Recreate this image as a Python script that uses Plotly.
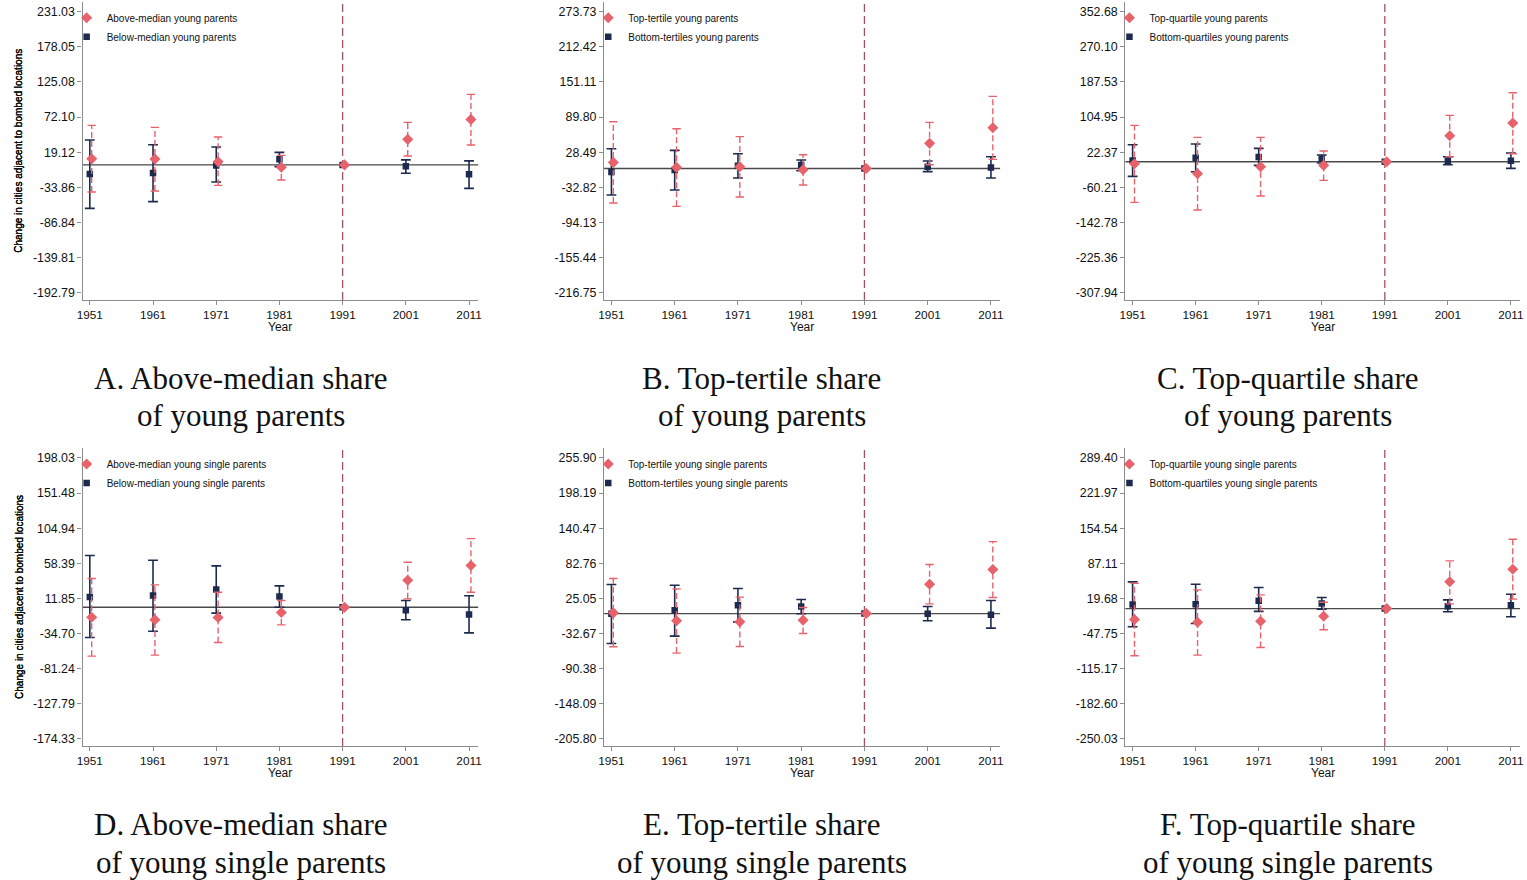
import plotly.graph_objects as go

# ---------------- data ----------------
years = [1951, 1961, 1971, 1981, 1991, 2001, 2011]
year_labels = ["1951", "1961", "1971", "1981", "1991", "2001", "2011"]

# Panel A
a_hi_est = [9.3, 8.8, 4.8, -3.7, 0, 38.5, 68.6]
a_hi_up = [59.6, 56.6, 42.0, 14.4, 0, 64.1, 106.4]
a_hi_lo = [-41.0, -39.4, -30.9, -22.8, 0, 13.4, 30.0]
a_lo_est = [-13.8, -12.3, -1.0, 8.3, 0, -2.2, -14.3]
a_lo_up = [37.5, 30.4, 26.9, 18.9, 0, 7.5, 6.0]
a_lo_lo = [-65.6, -55.5, -25.8, -2.7, 0, -12.6, -35.4]
a_ticks = ["231.03", "178.05", "125.08", "72.10", "19.12", "-33.86", "-86.84", "-139.81", "-192.79"]

# Panel B
b_hi_est = [10.7, 2.0, 3.2, -2.1, 0, 43.9, 71.3]
b_hi_up = [81.7, 69.5, 55.6, 24.1, 0, 80.6, 125.9]
b_hi_lo = [-60.2, -66.0, -49.8, -28.8, 0, 6.7, 16.0]
b_lo_est = [-6.1, -2.6, 5.0, 6.1, 0, 3.2, 2.0]
b_lo_up = [34.6, 31.7, 25.9, 14.8, 0, 13.1, 20.6]
b_lo_lo = [-46.3, -37.5, -16.6, -3.8, 0, -5.5, -16.6]
b_ticks = ["273.73", "212.42", "151.11", "89.80", "28.49", "-32.82", "-94.13", "-155.44", "-216.75"]

# Panel C
c_hi_est = [-4.7, -28.2, -11.7, -8.6, 0, 61.1, 90.9]
c_hi_up = [85.4, 57.2, 57.2, 25.1, 0, 108.9, 162.2]
c_hi_lo = [-95.6, -113.6, -80.7, -43.9, 0, 11.8, 18.8]
c_lo_est = [3.1, 9.4, 11.0, 7.1, 0, 2.4, 2.4]
c_lo_up = [40.0, 41.5, 31.4, 15.7, 0, 11.8, 20.4]
c_lo_lo = [-34.5, -23.5, -8.6, -3.1, 0, -7.0, -15.7]
c_ticks = ["352.68", "270.10", "187.53", "104.95", "22.37", "-60.21", "-142.78", "-225.36", "-307.94"]

# Panel D
d_hi_est = [-13.1, -16.6, -13.5, -6.9, 0, 35.9, 55.4]
d_hi_up = [38.1, 29.7, 20.0, 9.0, 0, 59.8, 91.1]
d_hi_lo = [-64.8, -63.4, -46.7, -23.3, 0, 11.2, 20.0]
d_lo_est = [13.8, 15.6, 23.6, 14.3, 0, -3.8, -9.6]
d_lo_up = [68.6, 62.4, 54.9, 28.4, 0, 9.0, 15.2]
d_lo_lo = [-40.0, -31.7, -7.8, 0.1, 0, -16.6, -33.9]
d_ticks = ["198.03", "151.48", "104.94", "58.39", "11.85", "-34.70", "-81.24", "-127.79", "-174.33"]

# Panel E
e_hi_est = [1.2, -11.9, -13.6, -10.8, 0, 48.3, 72.4]
e_hi_up = [57.6, 40.6, 27.0, 10.0, 0, 80.6, 118.4]
e_hi_lo = [-54.6, -65.0, -54.1, -32.7, 0, 16.0, 26.4]
e_lo_est = [-0.4, 5.6, 13.8, 11.6, 0, -0.4, -2.1]
e_lo_up = [47.8, 46.7, 41.2, 23.1, 0, 11.6, 21.5]
e_lo_lo = [-49.2, -37.1, -13.6, -0.4, 0, -11.9, -24.0]
e_ticks = ["255.90", "198.19", "140.47", "82.76", "25.05", "-32.67", "-90.38", "-148.09", "-205.80"]

# Panel F
f_hi_est = [-21.0, -26.1, -24.2, -14.6, 0, 51.4, 75.7]
f_hi_up = [48.8, 36.0, 26.4, 12.3, 0, 91.7, 133.3]
f_hi_lo = [-90.7, -89.4, -74.7, -40.8, 0, 9.1, 18.1]
f_lo_est = [7.8, 8.5, 14.9, 9.8, 0, 4.6, 6.6]
f_lo_up = [51.4, 46.9, 40.5, 21.3, 0, 16.8, 27.7]
f_lo_lo = [-35.0, -28.6, -5.4, -1.1, 0, -6.2, -15.8]
f_ticks = ["289.40", "221.97", "154.54", "87.11", "19.68", "-47.75", "-115.17", "-182.60", "-250.03"]

legend_hi = ["Above-median young parents", "Top-tertile young parents", "Top-quartile young parents",
             "Above-median young single parents", "Top-tertile young single parents",
             "Top-quartile young single parents"]
legend_lo = ["Below-median young parents", "Bottom-tertiles young parents", "Bottom-quartiles young parents",
             "Below-median young single parents", "Bottom-tertiles young single parents",
             "Bottom-quartiles young single parents"]
captions_1 = ["A. Above-median share", "B. Top-tertile share", "C. Top-quartile share",
              "D. Above-median share", "E. Top-tertile share", "F. Top-quartile share"]
captions_2 = ["of young parents", "of young parents", "of young parents",
              "of young single parents", "of young single parents", "of young single parents"]

y_title = "Change in cities adjacent to bombed locations"
x_title = "Year"
event_year = 1991

panels = [
    (a_hi_est, a_hi_up, a_hi_lo, a_lo_est, a_lo_up, a_lo_lo, a_ticks),
    (b_hi_est, b_hi_up, b_hi_lo, b_lo_est, b_lo_up, b_lo_lo, b_ticks),
    (c_hi_est, c_hi_up, c_hi_lo, c_lo_est, c_lo_up, c_lo_lo, c_ticks),
    (d_hi_est, d_hi_up, d_hi_lo, d_lo_est, d_lo_up, d_lo_lo, d_ticks),
    (e_hi_est, e_hi_up, e_hi_lo, e_lo_est, e_lo_up, e_lo_lo, e_ticks),
    (f_hi_est, f_hi_up, f_hi_lo, f_lo_est, f_lo_up, f_lo_lo, f_ticks),
]

# ---------------- style / layout ----------------
W, H = 1527, 880
PINK = "#E8626C"
NAVY = "#1C2A4E"
VLINE = "#A8505E"
AXC = "#8C8C8C"
SANS = "Liberation Sans, Arial, sans-serif"
SERIF = "Liberation Serif, Times New Roman, serif"

col_px = [(77, 475), (601.7, 1000), (1126, 1523)]
row_px = [(1.7, 300), (448, 746)]
cap_cx = [236, 760, 1290]
cap_y = [(378, 416), (824, 862)]
pink_shift = 0.3

def px_x(v):
    return v / W

def px_y(v):
    return 1 - v / H

fig = go.Figure()
annotations = []
shapes = []
layout_axes = {}

for i, (h_est, h_up, h_lo, l_est, l_up, l_lo, ticks) in enumerate(panels):
    r, c = divmod(i, 3)
    n = "" if i == 0 else str(i + 1)
    xa, ya = "x" + n, "y" + n
    leg = "legend" + n
    tv = [float(t) for t in ticks]
    tmax, tmin = max(tv), min(tv)
    span = tmax - tmin
    y_range = [tmin - span * 7.3 / 281.0, tmax + span * 10.0 / 281.0]

    # series: below (navy, solid) then above (pink, dashed)
    for est, up, lo, color, dash, sym, msize, capsz, lw, xs, name in [
        (l_est, l_up, l_lo, NAVY, "solid", "square", 6.5, 7, 1.6, 0.0, legend_lo[i]),
        (h_est, h_up, h_lo, PINK, "6px,3px", "diamond", 8.5, 6, 1.4, pink_shift, legend_hi[i]),
    ]:
        lx, ly, cx, cy = [], [], [], []
        for yr, e, u, l in zip(years, est, up, lo):
            if u == l:
                continue
            lx += [yr + xs, yr + xs, None]
            ly += [l, u, None]
            cx += [yr + xs, yr + xs]
            cy += [l, u]
        fig.add_trace(go.Scatter(x=lx, y=ly, mode="lines", xaxis=xa, yaxis=ya,
                                 line=dict(color=color, width=lw, dash=dash),
                                 showlegend=False, hoverinfo="skip"))
        fig.add_trace(go.Scatter(x=cx, y=cy, mode="markers", xaxis=xa, yaxis=ya,
                                 marker=dict(symbol="line-ew", size=capsz,
                                             line=dict(color=color, width=lw)),
                                 showlegend=False, hoverinfo="skip"))
        fig.add_trace(go.Scatter(x=[yr + xs for yr in years], y=est, mode="markers",
                                 xaxis=xa, yaxis=ya, name=name, legend=leg,
                                 marker=dict(symbol=sym, size=msize, color=color,
                                             line=dict(width=0))))

    x0, x1 = col_px[c]
    y0, y1 = row_px[r]
    layout_axes["xaxis" + n] = dict(
        domain=[px_x(x0), px_x(x1)], anchor=ya, range=[1949.85, 2012.45],
        tickvals=years, ticktext=year_labels, showline=True, linecolor=AXC, linewidth=1.3,
        ticks="outside", ticklen=4, tickcolor=AXC, tickwidth=1, showgrid=False, zeroline=False,
        tickfont=dict(family=SANS, size=11.8, color="#111"))
    layout_axes["yaxis" + n] = dict(
        domain=[px_y(y1), px_y(y0)], anchor=xa, range=y_range,
        tickvals=tv, ticktext=ticks, showline=True, linecolor=AXC, linewidth=1.3,
        ticks="outside", ticklen=4, tickcolor=AXC, tickwidth=1, showgrid=False, zeroline=False,
        tickfont=dict(family=SANS, size=12.4, color="#111"))

    # reference lines
    shapes.append(dict(type="line", xref=xa + " domain", yref=ya, x0=0, x1=1, y0=0, y1=0,
                       line=dict(color="#4a4a4a", width=1.4), layer="below"))
    shapes.append(dict(type="line", xref=xa, yref=ya + " domain", x0=event_year, x1=event_year,
                       y0=0, y1=1, line=dict(color=VLINE, width=1.3, dash="8px,4px"), layer="below"))

    # legend
    layout_axes[leg] = dict(x=px_x(x0 - 16), y=px_y(y0 + 1.5), xanchor="left", yanchor="top",
                            bgcolor="rgba(0,0,0,0)", borderwidth=0, traceorder="reversed",
                            font=dict(family=SANS, size=10, color="#111"),
                            itemwidth=30, tracegroupgap=0)

    # axis titles
    annotations.append(dict(text=y_title, xref="paper", yref="paper", x=px_x(13),
                             y=px_y((y0 + y1) / 2), textangle=-90, showarrow=False,
                             xanchor="center", yanchor="middle",
                             font=dict(family=SANS, size=10, color="#111")))
    annotations.append(dict(text=x_title, xref="paper", yref="paper", x=px_x((x0 + x1) / 2),
                             y=px_y(y1 + 26.5), showarrow=False, xanchor="center", yanchor="middle",
                             font=dict(family=SANS, size=12, color="#111")))
    # captions
    for txt, yy in zip([captions_1[i], captions_2[i]], cap_y[r]):
        annotations.append(dict(text=txt, xref="paper", yref="paper", x=px_x(cap_cx[c]),
                                 y=px_y(yy), showarrow=False, xanchor="center", yanchor="middle",
                                 font=dict(family=SERIF, size=31, color="#111")))

fig.update_layout(width=W, height=H, margin=dict(l=0, r=0, t=0, b=0),
                  paper_bgcolor="white", plot_bgcolor="white",
                  annotations=annotations, shapes=shapes, **layout_axes)

fig.write_html("out.html", config={"displayModeBar": False},
               post_script="document.body.style.margin='0';document.body.style.overflow='hidden';")
